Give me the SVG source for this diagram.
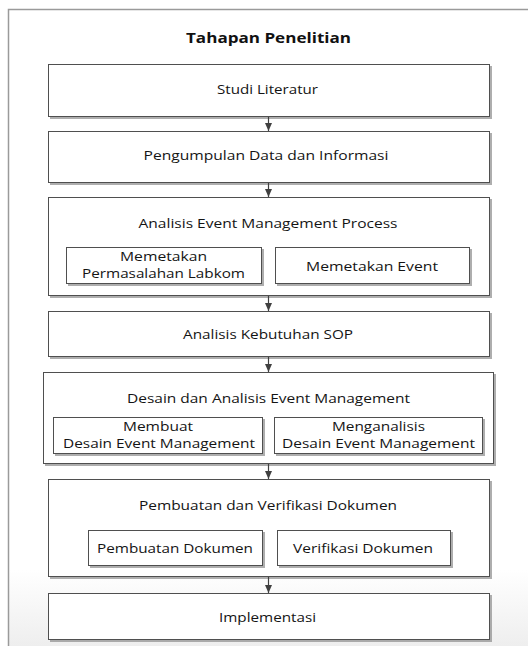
<svg xmlns="http://www.w3.org/2000/svg" width="528" height="646" viewBox="0 0 528 646">
  <style>
    .frame { fill: none; stroke: #9a9a9a; stroke-width: 1.5; }
    .box { fill: #ffffff; stroke: #505050; stroke-width: 1; filter: url(#shadow); }
    .label { font-family: "Open Sans", "Liberation Sans", sans-serif; font-size: 13px; fill: #141414; text-anchor: middle; }
    .title { font-family: "Open Sans", "Liberation Sans", sans-serif; font-size: 14px; font-weight: bold; fill: #111111; text-anchor: middle; }
    .link { stroke: #404040; stroke-width: 1.2; fill: none; marker-end: url(#arrow); }
  </style>
  <defs>
    <filter id="shadow" x="-5%" y="-10%" width="115%" height="130%">
      <feDropShadow dx="2" dy="2" stdDeviation="0.6" flood-color="#8c8c8c" flood-opacity="0.7"/>
    </filter>
    <marker id="arrow" viewBox="0 0 8 7" refX="8" refY="3.5" markerWidth="8" markerHeight="7" markerUnits="userSpaceOnUse" orient="auto">
      <path d="M0,0 L8,3.5 L0,7 Z" fill="#404040"/>
    </marker>
    <linearGradient id="floor" x1="0" y1="0" x2="0" y2="1">
      <stop offset="0" stop-color="#ffffff"/>
      <stop offset="1" stop-color="#eeeeee"/>
    </linearGradient>
  </defs>

  <!-- page background with a faint fade at the foot -->
  <rect x="0" y="0" width="528" height="646" fill="#ffffff"/>
  <rect x="9" y="570" width="519" height="76" fill="url(#floor)"/>

  <!-- outer frame: top and left edges -->
  <path class="frame" d="M8.5,646 L8.5,9.5 L528,9.5"/>

  <text class="title" x="268.5" y="43" textLength="165" lengthAdjust="spacingAndGlyphs">Tahapan Penelitian</text>

  <g id="studi-literatur">
    <rect class="box" x="48.5" y="64.5" width="441" height="52"/>
    <text class="label" x="267.5" y="94" textLength="101" lengthAdjust="spacingAndGlyphs">Studi Literatur</text>
  </g>

  <g id="pengumpulan-data">
    <rect class="box" x="48.5" y="131.5" width="441" height="51"/>
    <text class="label" x="266" y="160" textLength="245" lengthAdjust="spacingAndGlyphs">Pengumpulan Data dan Informasi</text>
  </g>

  <g id="analisis-event">
    <rect class="box" x="48.5" y="197.5" width="441" height="98"/>
    <text class="label" x="268" y="228" textLength="259" lengthAdjust="spacingAndGlyphs">Analisis Event Management Process</text>
    <g id="memetakan-permasalahan">
      <rect class="box" x="66.5" y="247.5" width="195" height="36"/>
      <text class="label" x="163.5" y="261" textLength="87" lengthAdjust="spacingAndGlyphs">Memetakan</text>
      <text class="label" x="163.5" y="278" textLength="163" lengthAdjust="spacingAndGlyphs">Permasalahan Labkom</text>
    </g>
    <g id="memetakan-event">
      <rect class="box" x="275.5" y="247.5" width="194" height="36"/>
      <text class="label" x="372" y="270.5" textLength="132" lengthAdjust="spacingAndGlyphs">Memetakan Event</text>
    </g>
  </g>

  <g id="analisis-sop">
    <rect class="box" x="48.5" y="311.5" width="441" height="45"/>
    <text class="label" x="268" y="339" textLength="170" lengthAdjust="spacingAndGlyphs">Analisis Kebutuhan SOP</text>
  </g>

  <g id="desain-analisis">
    <rect class="box" x="43.5" y="372.5" width="450" height="91"/>
    <text class="label" x="268.5" y="403" textLength="283" lengthAdjust="spacingAndGlyphs">Desain dan Analisis Event Management</text>
    <g id="membuat-desain">
      <rect class="box" x="53.5" y="417.5" width="209" height="36"/>
      <text class="label" x="158" y="431" textLength="70" lengthAdjust="spacingAndGlyphs">Membuat</text>
      <text class="label" x="159" y="448" textLength="192" lengthAdjust="spacingAndGlyphs">Desain Event Management</text>
    </g>
    <g id="menganalisis-desain">
      <rect class="box" x="274.5" y="417.5" width="208" height="36"/>
      <text class="label" x="378.5" y="431" textLength="93" lengthAdjust="spacingAndGlyphs">Menganalisis</text>
      <text class="label" x="378.5" y="448" textLength="193" lengthAdjust="spacingAndGlyphs">Desain Event Management</text>
    </g>
  </g>

  <g id="pembuatan-verifikasi">
    <rect class="box" x="48.5" y="479.5" width="441" height="97"/>
    <text class="label" x="268" y="510" textLength="258" lengthAdjust="spacingAndGlyphs">Pembuatan dan Verifikasi Dokumen</text>
    <g id="pembuatan-dokumen">
      <rect class="box" x="88.5" y="530.5" width="174" height="35"/>
      <text class="label" x="175" y="552.5" textLength="156" lengthAdjust="spacingAndGlyphs">Pembuatan Dokumen</text>
    </g>
    <g id="verifikasi-dokumen">
      <rect class="box" x="277.5" y="530.5" width="173" height="35"/>
      <text class="label" x="363" y="552.5" textLength="140" lengthAdjust="spacingAndGlyphs">Verifikasi Dokumen</text>
    </g>
  </g>

  <g id="implementasi">
    <rect class="box" x="48.5" y="593.5" width="441" height="46"/>
    <text class="label" x="267.5" y="622" textLength="97" lengthAdjust="spacingAndGlyphs">Implementasi</text>
  </g>

  <!-- flow between stages -->
  <g id="connectors">
    <line class="link" x1="268.5" y1="117" x2="268.5" y2="131"/>
    <line class="link" x1="268.5" y1="183" x2="268.5" y2="197"/>
    <line class="link" x1="268.5" y1="296" x2="268.5" y2="311"/>
    <line class="link" x1="268.5" y1="357" x2="268.5" y2="372"/>
    <line class="link" x1="268.5" y1="464" x2="268.5" y2="479"/>
    <line class="link" x1="268.5" y1="577" x2="268.5" y2="593"/>
  </g>
</svg>
